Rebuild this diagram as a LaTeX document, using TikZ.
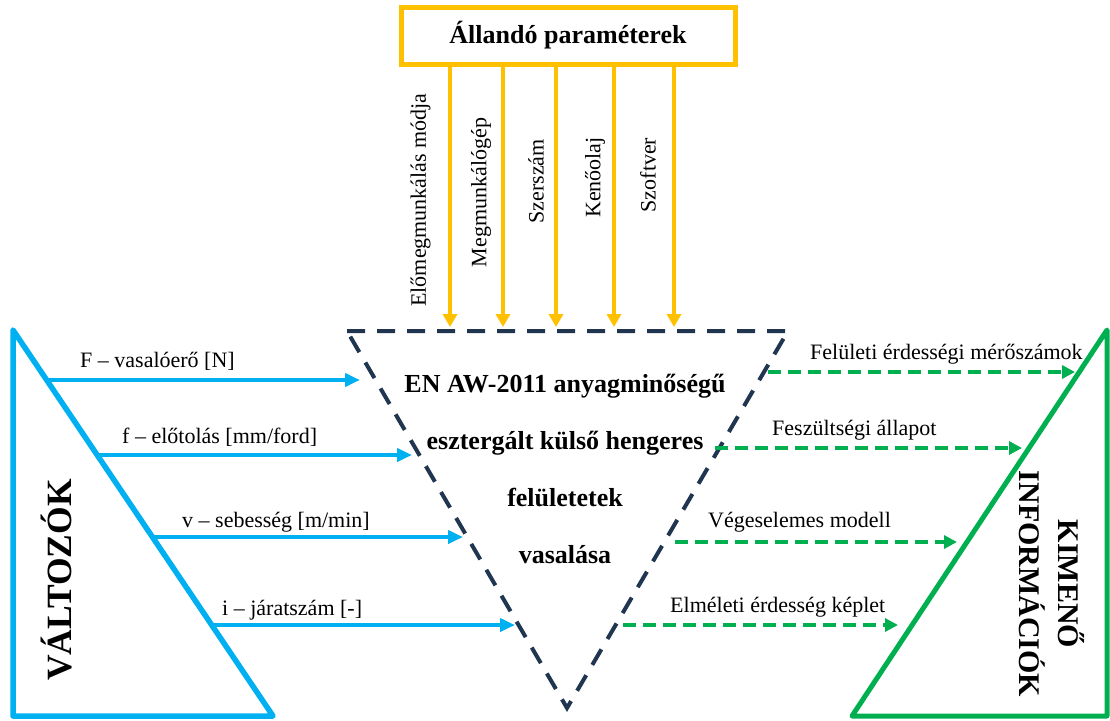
\documentclass[tikz,border=0pt]{standalone}
\usepackage{fontspec}
\setmainfont{Liberation Serif}
\usetikzlibrary{arrows.meta}
\definecolor{gold}{HTML}{FFC000}
\definecolor{sky}{HTML}{00B0F0}
\definecolor{leaf}{HTML}{00B050}
\definecolor{navy}{HTML}{1F3550}
\begin{document}
\begin{tikzpicture}[x=1pt,y=-1pt,
  lbl/.style={font=\fontsize{22}{26}\selectfont, inner sep=0pt},
  core/.style={font=\fontsize{26}{30}\selectfont\bfseries, inner sep=0pt, anchor=base},
  barrow/.style={draw=sky, line width=4pt, -{Triangle[length=15pt,width=13pt]}},
  garrow/.style={draw=leaf, line width=4pt, dash pattern=on 13pt off 7pt, -{Triangle[length=13pt,width=13pt]}},
  yarrow/.style={draw=gold, line width=4pt, -{Triangle[length=13pt,width=14pt]}}]
\useasboundingbox (0,0) rectangle (1110,720);

% constant parameters box
\node[draw=gold, line width=5pt, minimum width=334pt, minimum height=57pt, inner sep=0pt,
      font=\fontsize{26}{30}\selectfont\bfseries] (params) at (568,35.5) {Állandó paraméterek};

% inputs coming down from the box
\coordinate (y1) at (450,327);
\coordinate (y2) at (503,327);
\coordinate (y3) at (556,327);
\coordinate (y4) at (614,327);
\coordinate (y5) at (674,327);
\foreach \i in {1,...,5} \draw[yarrow] (params.south -| y\i) -- (y\i);
\node[lbl, rotate=90] (p1) at (420.5,200) {Előmegmunkálás módja};
\node[lbl, rotate=90] (p2) at (481,192.5) {Megmunkálógép};
\node[lbl, rotate=90] (p3) at (536,181.5) {Szerszám};
\node[lbl, rotate=90] (p4) at (595,177.5) {Kenőolaj};
\node[lbl, rotate=90] (p5) at (648,175) {Szoftver};

% left triangle: variables
\coordinate (lt) at (13,330);
\coordinate (lb) at (13,716);
\coordinate (lr) at (273,716);
\draw[sky, line width=5.5pt, line join=round] (lt) -- (lb) -- (lr) -- cycle;
\node[rotate=90, inner sep=0pt, font=\fontsize{35.5}{40}\selectfont\bfseries] (valt) at (57,580) {VÁLTOZÓK};

% central process triangle
\coordinate (ctl) at (347,331);
\coordinate (ctr) at (788,331);
\coordinate (cb) at (567,708);
\draw[navy, line width=4pt, dash pattern=on 18pt off 12pt] (ctl) -- (ctr) -- (cb) -- cycle;
\node[core] (c1) at (565,392) {EN AW-2011 anyagminőségű};
\node[core] (c2) at (565,449) {esztergált külső hengeres};
\node[core] (c3) at (565,506) {felületetek};
\node[core] (c4) at (565,563) {vasalása};

% right triangle: outputs
\coordinate (rt) at (1107,330);
\coordinate (rb) at (1107,716);
\coordinate (rl) at (852,716);
\draw[leaf, line width=5pt, line join=round] (rt) -- (rb) -- (rl) -- cycle;
\node[rotate=-90, align=center, inner sep=0pt, font=\fontsize{30}{39}\selectfont\bfseries] (kim) at (1052,584) {KIMENŐ\\INFORMÁCIÓK};

% variable inputs
\coordinate (bs1) at (47,380);  \coordinate (be1) at (360,380);
\coordinate (bs2) at (97,455);  \coordinate (be2) at (412,455);
\coordinate (bs3) at (152,537); \coordinate (be3) at (463,537);
\coordinate (bs4) at (212,625); \coordinate (be4) at (515,625);
\foreach \i in {1,...,4} \draw[barrow] (bs\i) -- (be\i);
\node[lbl, anchor=base west] (v1) at (80,367) {F – vasalóerő [N]};
\node[lbl, anchor=base west] (v2) at (122,443) {f – előtolás [mm/ford]};
\node[lbl, anchor=base west] (v3) at (182,527) {v – sebesség [m/min]};
\node[lbl, anchor=base west] (v4) at (222,615) {i – járatszám [-]};

% outputs
\coordinate (gs1) at (768,372); \coordinate (ge1) at (1075,372);
\coordinate (gs2) at (715,448); \coordinate (ge2) at (1022,448);
\coordinate (gs3) at (675,542); \coordinate (ge3) at (957,542);
\coordinate (gs4) at (623,625); \coordinate (ge4) at (898,625);
\foreach \i in {1,...,4} \draw[garrow] (gs\i) -- (ge\i);
\node[lbl, anchor=base west] (o1) at (810,359) {Felületi érdességi mérőszámok};
\node[lbl, anchor=base west] (o2) at (772,435) {Feszültségi állapot};
\node[lbl, anchor=base west] (o3) at (708,527) {Végeselemes modell};
\node[lbl, anchor=base west] (o4) at (670,612) {Elméleti érdesség képlet};
\end{tikzpicture}
\end{document}
